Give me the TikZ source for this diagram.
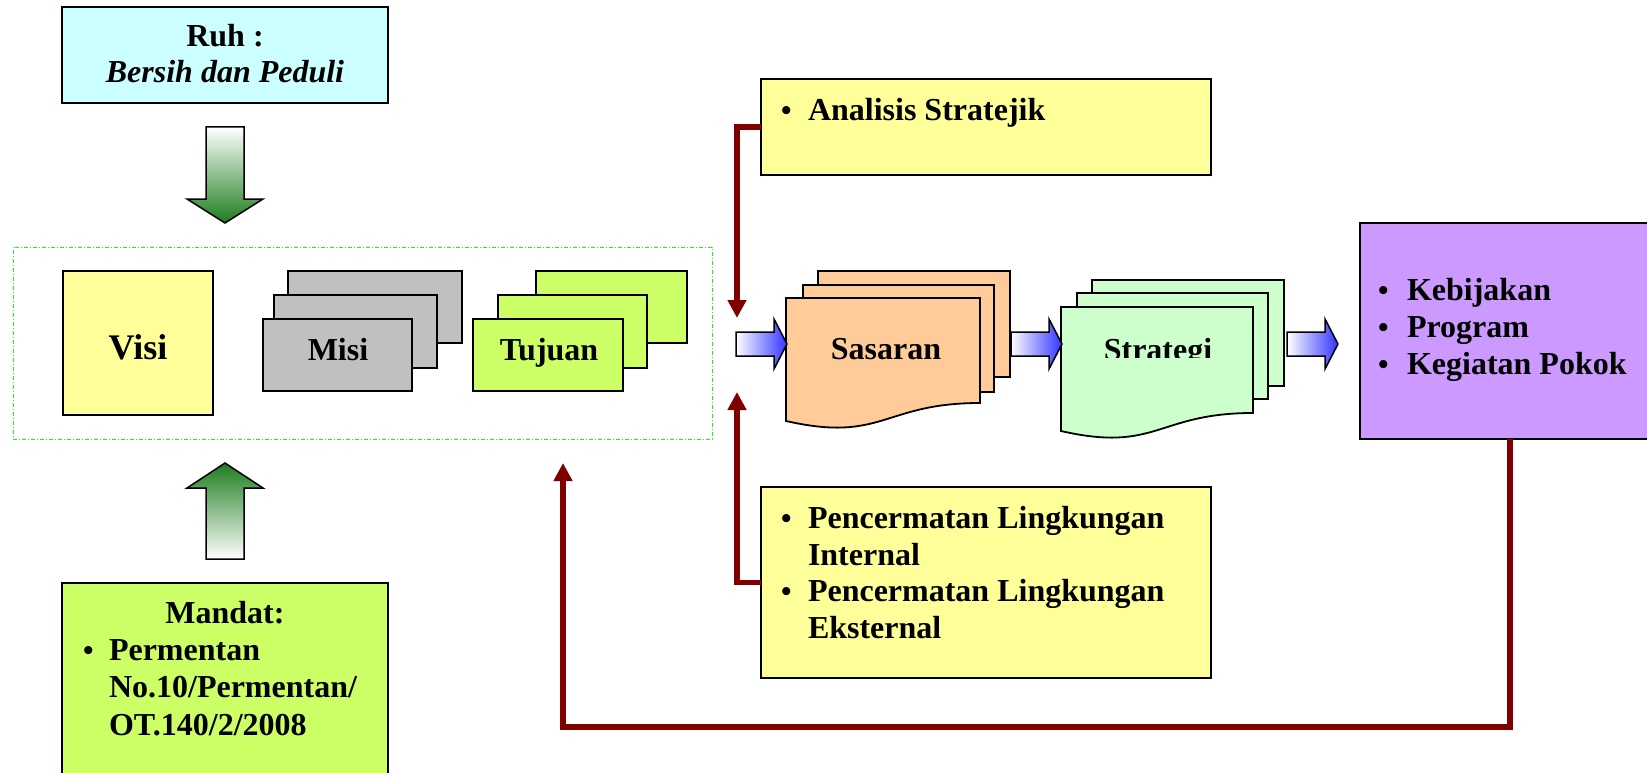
\documentclass[tikz,border=0pt]{standalone}
\usepackage{fontspec}
\setmainfont{Liberation Serif}
\usetikzlibrary{arrows.meta}
\definecolor{cyanbox}{HTML}{CCFFFF}
\definecolor{yellowbox}{HTML}{FFFF99}
\definecolor{greybox}{HTML}{C0C0C0}
\definecolor{limebox}{HTML}{CCFF66}
\definecolor{peach}{HTML}{FFCC99}
\definecolor{mint}{HTML}{CCFFCC}
\definecolor{lilac}{HTML}{CC99FF}
\definecolor{darkred}{HTML}{800000}
\definecolor{dotgreen}{HTML}{22EE22}
\definecolor{arrowblue}{HTML}{3333FF}
\definecolor{arrowgreen}{HTML}{1E7D1E}
\tikzset{
  box/.style={draw=black, line width=1.8pt, inner sep=0pt, outer sep=0pt, anchor=north west},
  sz/.style 2 args={minimum width=#1, minimum height=#2},
  txt/.style={inner sep=0pt, outer sep=0pt, font=\bfseries\fontsize{32}{37}\selectfont},
  bul/.style={inner sep=0pt, outer sep=0pt, anchor=base west, font=\bfseries\fontsize{30}{37}\selectfont},
  redarrow/.style={draw=darkred, line width=5.5pt, -{Triangle[width=18pt,length=18pt]}},
  bluearr/.style={draw=black, line width=1.5pt, left color=white, right color=arrowblue},
  docsheet/.style={draw=black, line width=1.8pt},
  dotframe/.style={draw=dotgreen, line width=0.8pt, dash pattern=on 4pt off 2pt on 1pt off 2pt},
}
\newcommand\mkbluearrow[1]{%
  \path[bluearr] (#1,332) -- ++(38,0) -- ++(0,-13) -- ++(13,25) -- ++(-13,25) -- ++(0,-13) -- ++(-38,0) -- cycle;}
\begin{document}
\begin{tikzpicture}[x=1pt,y=-1pt]
\clip (0,0) rectangle (1647,773);
\fill[white] (0,0) rectangle (1647,773);

% frame round Visi / Misi / Tujuan
\node[dotframe, inner sep=0pt, outer sep=0pt, anchor=north west, sz={699pt}{192pt}] (frame) at (13,247) {};

% Ruh
\node[box, fill=cyanbox, sz={326pt}{96pt}] (ruh) at (62,7) {};
\node[txt, anchor=base] (ruhA) at (225,47) {Ruh :};
\node[txt, anchor=base, font=\bfseries\itshape\fontsize{32}{37}\selectfont] (ruhB) at (225,83) {Bersih dan Peduli};

% green arrows
\path[draw=black, line width=1.5pt, top color=white, bottom color=arrowgreen]
  (206,127) -- (244,127) -- (244,199) -- (263,199) -- (225,223) -- (187,199) -- (206,199) -- cycle;
\path[draw=black, line width=1.5pt, top color=arrowgreen, bottom color=white]
  (206,559) -- (244,559) -- (244,488) -- (263,488) -- (225,463) -- (187,488) -- (206,488) -- cycle;

% Visi
\node[box, fill=yellowbox, sz={150pt}{144pt}] (visi) at (63,271) {};
\node[txt, anchor=base, font=\bfseries\fontsize{36}{40}\selectfont] (visiT) at (138,359) {Visi};

% Misi
\node[box, fill=greybox, sz={174pt}{72pt}] (misi3) at (288,271) {};
\node[box, fill=greybox, sz={163pt}{73pt}] (misi2) at (274,295) {};
\node[box, fill=greybox, sz={149pt}{72pt}] (misi1) at (263,319) {};
\node[txt, anchor=base] (misiT) at (338,360) {Misi};

% Tujuan
\node[box, fill=limebox, sz={151pt}{72pt}] (tuj3) at (536,271) {};
\node[box, fill=limebox, sz={149pt}{73pt}] (tuj2) at (498,295) {};
\node[box, fill=limebox, sz={150pt}{72pt}] (tuj1) at (473,319) {};
\node[txt, anchor=base] (tujT) at (549,360) {Tujuan};

% Sasaran
\draw[docsheet, fill=peach] (818,271) rectangle (1010,377);
\draw[docsheet, fill=peach] (803,285) rectangle (994,392);
\draw[docsheet, fill=peach] (786,298) -- (980,298) -- (980,403)
  .. controls (883,403) and (883,443) .. (786,421) -- cycle;
\node[txt, anchor=base] (sasT) at (886,359) {Sasaran};

% Strategi
\draw[docsheet, fill=mint] (1092,280) rectangle (1284,386);
\draw[docsheet, fill=mint] (1077,293) rectangle (1268,399);
\draw[docsheet, fill=mint] (1061,307) -- (1253,307) -- (1253,413)
  .. controls (1157,413) and (1157,453) .. (1061,431) -- cycle;
\begin{scope}
  \clip (1080,320) rectangle (1240,357.5);
  \node[txt, anchor=base] (strT) at (1158,360) {Strategi};
\end{scope}

% blue arrows
\mkbluearrow{736}
\mkbluearrow{1011}
\mkbluearrow{1287}

% Analisis
\node[box, fill=yellowbox, sz={450pt}{96pt}] (ana) at (761,79) {};
\node[bul] (anaB) at (781,121) {\textbullet};
\node[txt, anchor=base west] (anaT) at (808,121) {Analisis Stratejik};

% Pencermatan
\node[box, fill=yellowbox, sz={450pt}{191pt}] (penc) at (761,487) {};
\node[bul] (pencB1) at (781,528) {\textbullet};
\node[txt, anchor=base west] (pencT1) at (808,528) {Pencermatan Lingkungan};
\node[txt, anchor=base west] (pencT2) at (808,565) {Internal};
\node[bul] (pencB2) at (781,601) {\textbullet};
\node[txt, anchor=base west] (pencT3) at (808,601) {Pencermatan Lingkungan};
\node[txt, anchor=base west] (pencT4) at (808,638) {Eksternal};

% purple
\node[box, fill=lilac, sz={300pt}{216pt}] (purple) at (1360,223) {};
\node[bul] (pB1) at (1378,300) {\textbullet};
\node[txt, anchor=base west] (pT1) at (1407,300) {Kebijakan};
\node[bul] (pB2) at (1378,337) {\textbullet};
\node[txt, anchor=base west] (pT2) at (1407,337) {Program};
\node[bul] (pB3) at (1378,374) {\textbullet};
\node[txt, anchor=base west] (pT3) at (1407,374) {Kegiatan Pokok};

% Mandat
\node[box, fill=limebox, sz={326pt}{210pt}] (mandat) at (62,583) {};
\node[txt, anchor=base] (manT) at (225,623) {Mandat:};
\node[bul] (manB) at (83,660) {\textbullet};
\node[txt, anchor=base west] (manT1) at (109,660) {Permentan};
\node[txt, anchor=base west] (manT2) at (109,697) {No.10/Permentan/};
\node[txt, anchor=base west] (manT3) at (109,735) {OT.140/2/2008};

% red connectors
\coordinate (tipA) at (737,318);
\coordinate (tipB) at (737,392);
\coordinate (cornerC) at (563,727);
\coordinate (tipC) at (563,463);
\draw[redarrow] (ana.west) -| (tipA);
\draw[redarrow] (penc.west) -| (tipB);
\draw[redarrow] (purple.south) |- (cornerC) -- (tipC);
\end{tikzpicture}
\end{document}
